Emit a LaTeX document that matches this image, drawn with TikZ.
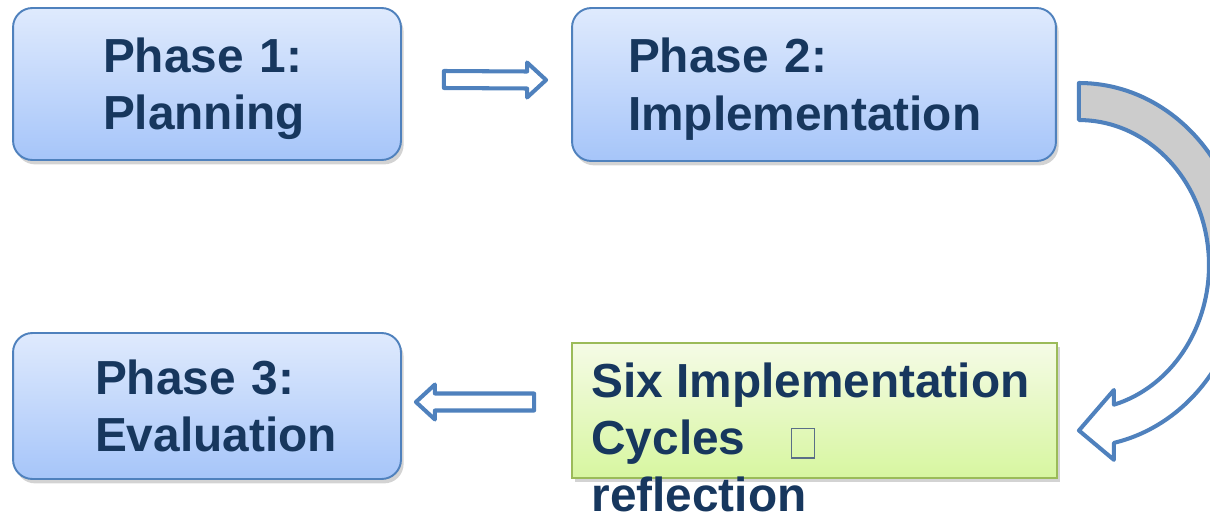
\documentclass[tikz,border=0pt]{standalone}
\usepackage{fontspec}
\setmainfont{Liberation Sans}
\usepackage{tikz}
\usetikzlibrary{calc,shadows}
\definecolor{navy}{RGB}{23,55,94}
\definecolor{edgeblue}{RGB}{79,129,189}
\definecolor{topblue}{RGB}{223,234,253}
\definecolor{botblue}{RGB}{166,197,249}
\definecolor{topgreen}{RGB}{245,251,230}
\definecolor{botgreen}{RGB}{215,246,160}
\definecolor{edgegreen}{RGB}{155,187,89}
\definecolor{glyphgray}{RGB}{90,110,135}
\newcommand{\phasefont}{\fontsize{27.2pt}{32.7pt}\selectfont\bfseries\hyphenpenalty=10000 }
\newcommand{\noglyph}{\textcolor{glyphgray}{\fboxsep=0pt\fboxrule=0.6pt\raisebox{-1.7pt}{\fbox{\rule{0pt}{16.4pt}\hspace{12.4pt}}}}}
\newcommand{\topstrut}{\rule{0pt}{25pt}}
\tikzstyle{phase}=[draw=edgeblue, line width=1.1pt, rounded corners=11pt, top color=topblue, bottom color=botblue, drop shadow={opacity=0.35,shadow xshift=1.5pt,shadow yshift=-2.5pt}, align=left, text=navy, font=\phasefont, minimum width=7.76cm]
\tikzstyle{cyclebox}=[draw=edgegreen, line width=1.1pt, top color=topgreen, bottom color=botgreen, drop shadow={opacity=0.35,shadow xshift=1.5pt,shadow yshift=-2.5pt}, minimum width=9.7cm, minimum height=2.7cm]
\tikzstyle{cycletext}=[anchor=north west, inner sep=0pt, align=left, text=navy, font=\phasefont]
\tikzstyle{fatarrow}=[draw=edgeblue, line width=2.3pt, line join=round]

\begin{document}
\begin{tikzpicture}[x=0.02cm,y=-0.02cm]
\useasboundingbox (0,0) rectangle (1210,517);
\clip (0,0) rectangle (1210,517);
\node[phase, inner xsep=1.8cm, text width=4.16cm, minimum height=3.04cm] (p1) at (207,84) {\topstrut Phase 1:\\Planning};
\node[phase, inner xsep=1.12cm, text width=7.44cm, minimum width=9.68cm, minimum height=3.06cm] (p2) at (814,84.5) {\topstrut Phase 2:\\Implementation};
\node[phase, inner xsep=1.64cm, text width=4.48cm, minimum height=2.92cm] (p3) at (207,406) {Phase 3:\\Evaluation};
\node[cyclebox] (cyc) at (814.5,410.5) {};
\node[cycletext] (cyct) at ($(cyc.north west)+(20,20)$) {Six Implementation\\Cycles\hspace{26pt}\noglyph\\reflection};
% straight block arrows
\coordinate (a1) at ($(p1.east)+(42,-4.5)$);
\coordinate (b1) at ($(p2.west)+(-25,-4.5)$);
\coordinate (a2) at ($(cyc.west)+(-37,-8.5)$);
\coordinate (b2) at ($(p3.east)+(14,-4)$);
\foreach \a/\b/\s in {a1/b1/1,a2/b2/-1} {
	\draw[fatarrow] ($(\a)+(0,-8.5)$) -- ($(\b)+(-19*\s,-8.5)$) -- ($(\b)+(-19*\s,-17.5)$) -- (\b)
		-- ($(\b)+(-19*\s,17.5)$) -- ($(\b)+(-19*\s,8.5)$) -- ($(\a)+(0,8.5)$) -- cycle;
}
% curved arrow
\coordinate (c) at ($(p2.east)+(22,180.5)$);
\coordinate (tip) at ($(cyc.east)+(21,20)$);
\fill[gray!40] ($(c)+(0,-182)$) arc[start angle=-90,end angle=0,x radius=165,y radius=182]
	-- ($(c)+(130,0)$) arc[start angle=0,end angle=-90,x radius=130,y radius=145] -- cycle;
\draw[fatarrow] ($(c)+(0,-182)$) arc[start angle=-90,end angle=77.75,x radius=165,y radius=182]
	-- ++(0,17) -- (tip) -- ($(c)+(35,125)$) -- ++(0,14.7)
	arc[start angle=74.4,end angle=-90,x radius=130,y radius=145] -- cycle;
\end{tikzpicture}
\end{document}
